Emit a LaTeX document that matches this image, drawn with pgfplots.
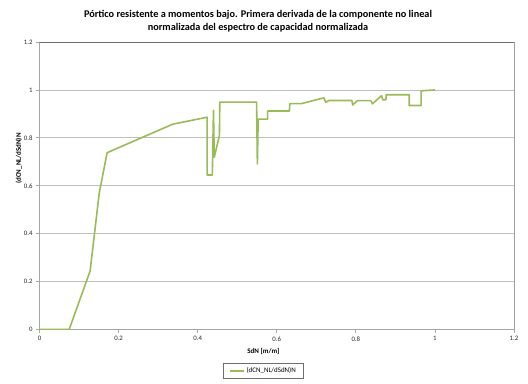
\documentclass[border=0pt]{standalone}
\usepackage{pgfplots}
\pgfplotsset{compat=1.18}
\usepackage{fontspec}
\setmainfont{Carlito}
\definecolor{lineg}{HTML}{9BBB59}
\definecolor{gridc}{HTML}{BFBFBF}
\definecolor{axc}{HTML}{A6A6A6}
\definecolor{borderc}{HTML}{6E6E6E}
\begin{document}
\begin{tikzpicture}
\path[use as bounding box, fill=white] (0bp,0bp) rectangle (528bp,384bp);
\node[font=\fontsize{10.3}{13}\selectfont\bfseries, align=center] at (258bp,362.5bp)
  {Pórtico resistente a momentos bajo. Primera derivada de la componente no lineal\\normalizada del espectro de capacidad normalizada};
\begin{axis}[
  at={(39.5bp,54.5bp)}, anchor=south west,
  scale only axis, width=474.5bp, height=287.5bp,
  xmin=0, xmax=1.2, ymin=0, ymax=1.2,
  xtick={0,0.2,0.4,0.6,0.8,1,1.2},
  ytick={0,0.2,0.4,0.6,0.8,1,1.2},
  xticklabels={0,0.2,0.4,0.6,0.8,1,1.2},
  yticklabels={0,0.2,0.4,0.6,0.8,1,1.2},
  ymajorgrids, grid style={draw=gridc, line width=0.8bp},
  axis line style={draw=axc, line width=0.8bp},
  tick style={draw=axc, line width=0.8bp},
  tick align=outside, major tick length=3.5bp,
  xtick pos=bottom, ytick pos=left,
  ticklabel style={font=\fontsize{6.8}{7}\selectfont, text=black!85},
  /pgf/number format/assume math mode=true,
  xlabel={\bfseries SdN [m/m]},
  ylabel={\bfseries (dCN\_NL/dSdN)N},
  label style={font=\fontsize{7}{8}\selectfont},
  xlabel style={at={(rel axis cs:0.472,0)}, anchor=north, yshift=-15bp},
  ylabel style={at={(rel axis cs:0,0.595)}, anchor=south, yshift=14bp},
  legend style={at={(rel axis cs:0.472,-0.1443)}, anchor=center,
    draw=borderc, line width=0.8bp, font=\fontsize{7}{8}\selectfont,
    inner xsep=6bp, inner ysep=2bp, legend cell align=left},
  legend image code/.code={\draw[#1, line width=1.5bp] (0bp,0bp) -- (14bp,0bp);},
]
\addplot[lineg, line width=1.6bp, line join=round] coordinates {
(0,0) (0.075,0) (0.128,0.244) (0.151,0.569) (0.171,0.738) (0.337,0.857)
(0.424,0.886) (0.424,0.645) (0.437,0.645) (0.440,0.914) (0.442,0.719)
(0.455,0.810) (0.456,0.949) (0.549,0.949) (0.551,0.691) (0.553,0.878)
(0.577,0.878) (0.577,0.912) (0.632,0.912) (0.633,0.943) (0.663,0.943)
(0.719,0.967) (0.724,0.948) (0.732,0.956) (0.790,0.956) (0.792,0.937)
(0.804,0.955) (0.838,0.955) (0.842,0.942) (0.865,0.976) (0.868,0.959)
(0.876,0.959) (0.877,0.980) (0.935,0.980) (0.935,0.935) (0.965,0.935)
(0.965,0.996) (1.0,1.0)
};
\addlegendentry{(dCN\_NL/dSdN)N}
\draw[borderc, line width=0.9bp] (rel axis cs:0,1) -- (rel axis cs:1,1) -- (rel axis cs:1,0);
\end{axis}
\end{tikzpicture}
\end{document}
